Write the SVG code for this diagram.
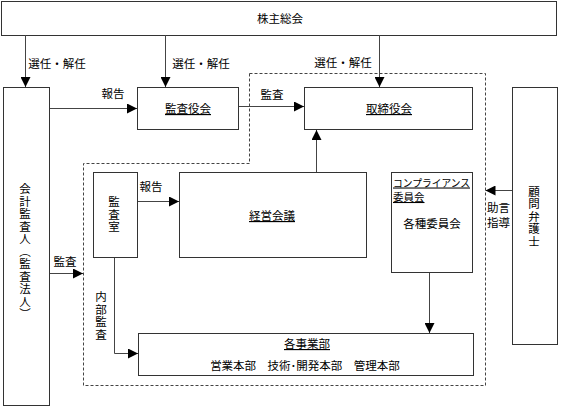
<svg xmlns="http://www.w3.org/2000/svg" width="561" height="406" viewBox="0 0 561 406">
<style>
text{font-family:"Noto Sans CJK JP","Noto Sans CJK SC",sans-serif;font-size:11.5px;fill:#000}
.c{text-anchor:middle;dominant-baseline:central}
.s{dominant-baseline:central}
.u{text-decoration:underline}
.sm{font-size:10.5px}
.v{writing-mode:vertical-rl;text-orientation:mixed;text-anchor:middle;letter-spacing:1px}
.box{fill:#fff;stroke:#333;stroke-width:1}
.ln{fill:none;stroke:#444;stroke-width:1}
.dash{fill:none;stroke:#444;stroke-width:1;stroke-dasharray:3 2}
</style>
<defs>
<marker id="ah" markerUnits="userSpaceOnUse" markerWidth="10" markerHeight="10" viewBox="0 0 10 10" refX="10" refY="5" orient="auto">
<path d="M0,0 L10,5 L0,10 Z" fill="#000"/>
</marker>
</defs>

<path class="dash" d="M249.5,73.5 H485.5 V385.5 H83.5 V163.5 H249.5 Z"/>

<g id="shareholders"><rect class="box" x="1.5" y="1.5" width="555" height="34"/><text class="c" x="280" y="18">株主総会</text></g>
<g id="auditor"><rect class="box" x="3.5" y="87.5" width="46" height="318"/><text class="v" x="25" y="252">会計監査人（監査法人）</text></g>
<g id="kansayakukai"><rect class="box" x="137.5" y="87.5" width="101" height="42"/><text class="c u" x="188" y="108">監査役会</text></g>
<g id="torishimariyakukai"><rect class="box" x="304.5" y="87.5" width="168" height="42"/><text class="c u" x="389" y="108">取締役会</text></g>
<g id="lawyer"><rect class="box" x="512.5" y="87.5" width="45" height="257"/><text class="v" x="534" y="217">顧問弁護士</text></g>
<g id="kansashitsu"><rect class="box" x="93.5" y="172.5" width="44" height="85"/><text class="v" x="114" y="215">監査室</text></g>
<g id="keieikaigi"><rect class="box" x="179.5" y="172.5" width="187" height="85"/><text class="c u" x="272" y="215">経営会議</text></g>
<g id="committee"><rect class="box" x="391.5" y="172.5" width="81" height="100"/><text class="s u sm" x="393" y="182" textLength="77" lengthAdjust="spacingAndGlyphs">コンプライアンス</text><text class="s u sm" x="393" y="196.5">委員会</text><text class="c" x="432" y="223">各種委員会</text></g>
<g id="divisions"><rect class="box" x="138.5" y="333.5" width="335" height="42"/><text class="c u" x="307" y="343">各事業部</text><text class="c" x="305" y="365">営業本部　技術･開発本部　管理本部</text></g>

<g id="connectors">
<line class="ln" x1="25.5" y1="35" x2="25.5" y2="87" marker-end="url(#ah)"/>
<line class="ln" x1="165.5" y1="35" x2="165.5" y2="87" marker-end="url(#ah)"/>
<line class="ln" x1="379.5" y1="35" x2="379.5" y2="87" marker-end="url(#ah)"/>
<line class="ln" x1="50" y1="108.5" x2="137" y2="108.5" marker-end="url(#ah)"/>
<line class="ln" x1="239" y1="106.5" x2="304" y2="106.5" marker-end="url(#ah)"/>
<line class="ln" x1="316.5" y1="172" x2="316.5" y2="130" marker-end="url(#ah)"/>
<line class="ln" x1="138" y1="201.5" x2="179" y2="201.5" marker-end="url(#ah)"/>
<line class="ln" x1="50" y1="273.5" x2="83" y2="273.5" marker-end="url(#ah)"/>
<polyline class="ln" points="114.5,258 114.5,353.5 138,353.5" marker-end="url(#ah)"/>
<line class="ln" x1="429.5" y1="273" x2="429.5" y2="333" marker-end="url(#ah)"/>
<line class="ln" x1="512" y1="190.5" x2="485.5" y2="190.5" marker-end="url(#ah)"/>
</g>

<g id="labels">
<text class="c" x="57" y="63">選任・解任</text>
<text class="c" x="201" y="63">選任・解任</text>
<text class="c" x="343" y="62">選任・解任</text>
<text class="c" x="113" y="93">報告</text>
<text class="c" x="272" y="94">監査</text>
<text class="c" x="151" y="186">報告</text>
<text class="c" x="65" y="261">監査</text>
<text class="v" x="101" y="316">内部監査</text>
<text class="s" x="487" y="207">助言</text>
<text class="s" x="487" y="222">指導</text>
</g>
</svg>
